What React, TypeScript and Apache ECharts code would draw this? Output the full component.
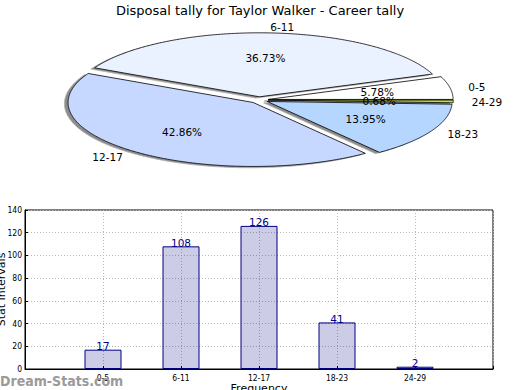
import React, { useEffect, useRef } from "react";
import * as echarts from "echarts";

const categories = ["0-5", "6-11", "12-17", "18-23", "24-29"];
const tally = [17, 108, 126, 41, 2];

const pieColors = ["#ffffff", "#eaf1ff", "#c6d8ff", "#b5d6ff", "#bde24c"];

const CX = 259;
const CY = 100;
const RX = 185;
const RY = 64;
const EXPLODE = 0.05;

const total = tally.reduce((a, b) => a + b, 0);
const cumulative: number[] = [];
tally.reduce((acc, v, i) => {
  cumulative[i] = acc;
  return acc + v;
}, 0);

function renderPie(params: any, api: any) {
  const i = params.dataIndex;
  const v = api.value(1);
  const a0 = (cumulative[i] / total) * Math.PI * 2;
  const a1 = ((cumulative[i] + v) / total) * Math.PI * 2;
  const mid = (a0 + a1) / 2;
  const cx = CX + EXPLODE * RX * Math.cos(mid);
  const cy = CY - EXPLODE * RY * Math.sin(mid);
  const pts: number[][] = [[cx, cy]];
  const n = Math.max(2, Math.ceil((a1 - a0) / (Math.PI / 360)));
  for (let k = 0; k <= n; k++) {
    const t = a0 + ((a1 - a0) * k) / n;
    pts.push([cx + RX * Math.cos(t), cy - RY * Math.sin(t)]);
  }
  const shadow = pts.map((p) => [p[0] - 3.7, p[1] + 1.3]);
  const pct = ((v / total) * 100).toFixed(2) + "%";
  const lx = cx + 1.1 * RX * Math.cos(mid);
  const ly = cy - 1.1 * RY * Math.sin(mid);
  const px = cx + 0.6 * RX * Math.cos(mid);
  const py = cy - 0.6 * RY * Math.sin(mid);
  return {
    type: "group",
    children: [
      {
        type: "polygon",
        z2: 0,
        shape: { points: shadow },
        style: { fill: "#8c8c8c", stroke: "#b0b0b0", lineWidth: 0.8 },
      },
      {
        type: "polygon",
        z2: 10,
        shape: { points: pts },
        style: { fill: pieColors[i], stroke: "#000", lineWidth: 0.8 },
      },
      {
        type: "text",
        z2: 20,
        x: px,
        y: py,
        style: {
          text: pct,
          fill: "#000",
          fontSize: 10.5,
          fontFamily: "DejaVu Sans",
          align: "center",
          verticalAlign: "middle",
        },
      },
      {
        type: "text",
        z2: 20,
        x: lx,
        y: ly,
        style: {
          text: categories[i],
          fill: "#000",
          fontSize: 10.5,
          fontFamily: "DejaVu Sans",
          align: Math.cos(mid) > 0 ? "left" : "right",
          verticalAlign: "middle",
        },
      },
    ],
  };
}

export default function App() {
  const ref = useRef<HTMLDivElement>(null);
  useEffect(() => {
    if (!ref.current) return;
    const chart = echarts.init(ref.current, undefined, { renderer: "svg" });
    const tickFont = "'DejaVu Sans Condensed', 'DejaVu Sans'";
    chart.setOption({
      animation: false,
      backgroundColor: "#fff",
      textStyle: { fontFamily: "DejaVu Sans" },
      graphic: [
        {
          type: "text",
          x: 260,
          y: 10,
          style: {
            text: "Disposal tally for Taylor Walker - Career tally",
            fill: "#000",
            fontSize: 13,
            fontFamily: "DejaVu Sans",
            align: "center",
            verticalAlign: "middle",
          },
        },
        {
          type: "text",
          x: 0,
          y: 381,
          z: 100,
          style: {
            text: "Dream-Stats.com",
            fill: "#9a9a9a",
            fontSize: 14,
            fontWeight: "bold",
            fontFamily: "'DejaVu Sans Condensed', 'DejaVu Sans'",
            align: "left",
            verticalAlign: "middle",
          },
        },
      ],
      grid: {
        left: 25,
        right: 27,
        top: 210,
        bottom: 21,
        show: true,
        borderColor: "#000",
        borderWidth: 1,
        backgroundColor: "transparent",
        outerBoundsMode: "none",
        containLabel: false,
      },
      xAxis: {
        type: "value",
        min: -1,
        max: 5,
        interval: 1,
        name: "Frequency",
        nameLocation: "middle",
        nameGap: 14,
        nameMoveOverlap: false,
        nameTextStyle: { fontSize: 11, color: "#000", fontFamily: "DejaVu Sans" },
        axisLine: { show: true, onZero: false, lineStyle: { color: "#000" } },
        axisTick: { show: true, inside: true, length: 3, lineStyle: { color: "#000" } },
        axisLabel: {
          fontSize: 8.5,
          color: "#000",
          margin: 4,
          fontFamily: tickFont,
          formatter: (v: number) => categories[v] ?? "",
        },
        splitLine: { show: true, lineStyle: { color: "#b8b8b8", type: [1, 2] } },
      },
      yAxis: {
        type: "value",
        min: 0,
        max: 140,
        interval: 20,
        name: "Stat Intervals",
        nameLocation: "middle",
        nameGap: 18,
        nameMoveOverlap: false,
        nameTextStyle: { fontSize: 11, color: "#000", fontFamily: "DejaVu Sans" },
        axisLine: { show: true, onZero: false, lineStyle: { color: "#000" } },
        axisTick: { show: true, inside: true, length: 3, lineStyle: { color: "#000" } },
        axisLabel: { fontSize: 8.5, color: "#000", margin: 3, fontFamily: tickFont },
        splitLine: { show: true, lineStyle: { color: "#b8b8b8", type: [1, 2] } },
      },
      series: [
        {
          type: "custom",
          coordinateSystem: "none",
          silent: true,
          data: tally.map((v, i) => [i, v]),
          renderItem: renderPie,
        },
        {
          type: "bar",
          data: tally.map((v, i) => [i, v]),
          barWidth: 37,
          itemStyle: {
            color: "rgba(0,0,128,0.2)",
            borderColor: "#000080",
            borderWidth: 1,
          },
          label: {
            show: true,
            position: "top",
            distance: -2,
            color: "#00008b",
            fontSize: 10.5,
            fontFamily: "DejaVu Sans",
          },
        },
      ],
    });
    return () => chart.dispose();
  }, []);
  return (
    <div
      ref={ref}
      style={{ position: "fixed", left: 0, top: 0, width: 520, height: 390 }}
    />
  );
}
